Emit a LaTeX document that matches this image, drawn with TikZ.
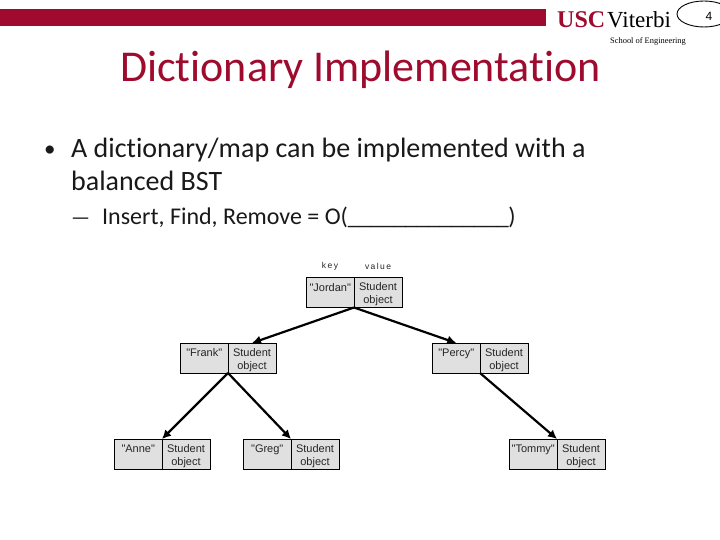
\documentclass[tikz,border=0pt]{standalone}
\usepackage{fontspec}
\setmainfont{Carlito}[Ligatures=NoCommon]
\newfontfamily\arialf{Liberation Sans}
\newfontfamily\serf{Liberation Serif}
\usetikzlibrary{arrows.meta,shapes.geometric}
\definecolor{uscred}{HTML}{9E0B2E}
\definecolor{boxfill}{HTML}{E0E0E0}
\newcommand{\us}{\_\kern-.5pt}
\tikzset{
  cell/.style={draw=black,line width=0.7pt,fill=boxfill,minimum height=30pt,inner sep=0pt,outer sep=0pt,
    font=\arialf\fontsize{11}{13}\selectfont,align=center,text=black!85},
  keycell/.style={cell,minimum width=47.5pt,text depth=11pt,text height=8pt},
  valcell/.style={cell,minimum width=48pt,anchor=west},
  link/.style={line width=2.2pt,draw=black,-{Latex[length=9pt,width=9pt]},shorten >=0pt},
  head/.style={font=\arialf\fontsize{8.5}{11}\selectfont,text=black!85,inner sep=0pt},
  bodytxt/.style={anchor=base west,inner sep=0pt,text=black!90}
}
\newcommand{\kv}[4]{%
  \node[keycell] (#1k) at (#2,#3) {#4};
  \node[valcell] (#1v) at (#1k.east) {\rule{0pt}{12pt}Student\\object};
}
\begin{document}
\begin{tikzpicture}[x=1pt,y=-1pt]
\useasboundingbox (0,0) rectangle (720,540);
\fill[white] (0,0) rectangle (720,540);
\fill[uscred] (0,9.5) rectangle (546,26);
\node[inner sep=0pt,anchor=base west,text=uscred,font=\serf\bfseries\fontsize{24}{24}\selectfont] (usc) at (557,28) {USC};
\node[inner sep=0pt,anchor=base west,text=black,font=\serf\fontsize{23}{23}\selectfont] (vit) at (607,28) {Viterbi};
\node[inner sep=0pt,anchor=base west,text=black,font=\serf\fontsize{8.4}{8.4}\selectfont] (soe) at (610,44) {School of Engineering};
\node[draw=black,line width=0.9pt,ellipse,minimum width=54pt,minimum height=26pt,inner sep=0pt,fill=white] (pg) at (704,14) {};
\node[inner sep=0pt,font=\arialf\fontsize{12}{12}\selectfont] (num) at (709,16) {4};

\node[inner sep=0pt,anchor=base west,text=uscred,font=\fontsize{44}{44}\selectfont] (title) at (120,82) {Dictionary Implementation};

\node[bodytxt,font=\fontsize{23}{23}\selectfont] (b1) at (44,157) {•};
\node[bodytxt,font=\fontsize{28}{28}\selectfont] (t1) at (71,158) {A dictionary/map can be implemented with a};
\node[bodytxt,font=\fontsize{28}{28}\selectfont] (t2) at (71,191) {balanced BST};
\node[bodytxt,font=\fontsize{21}{21}\selectfont] (b2) at (71,225) {—};
\node[bodytxt,font=\fontsize{24}{24}\selectfont] (t3) at (102,225) {Insert, Find, Remove = O(\us\us\us\us\us\us\us\us\us\us\us\us\us\us)};

\node[head] (hk) at (330,266) {k\,e\,y};
\node[head] (hv) at (378,266) {v\,a\,l\,u\,e};

\kv{jo}{330.25}{292.5}{"Jordan"}
\kv{fr}{204.25}{358}{"Frank"}
\kv{pe}{456.25}{358}{"Percy"}
\kv{an}{138.25}{454}{"Anne"}
\kv{gr}{267.25}{454}{"Greg"}
\kv{to}{533.25}{454}{"Tommy"}

\draw[link] (jok.south east) -- (frv.north);
\draw[link] (jok.south east) -- (pek.north);
\draw[link] (frk.south east) -- (ank.north east);
\draw[link] (frk.south east) -- (grk.north east);
\draw[link] (pek.south east) -- (tok.north east);
\end{tikzpicture}
\end{document}
